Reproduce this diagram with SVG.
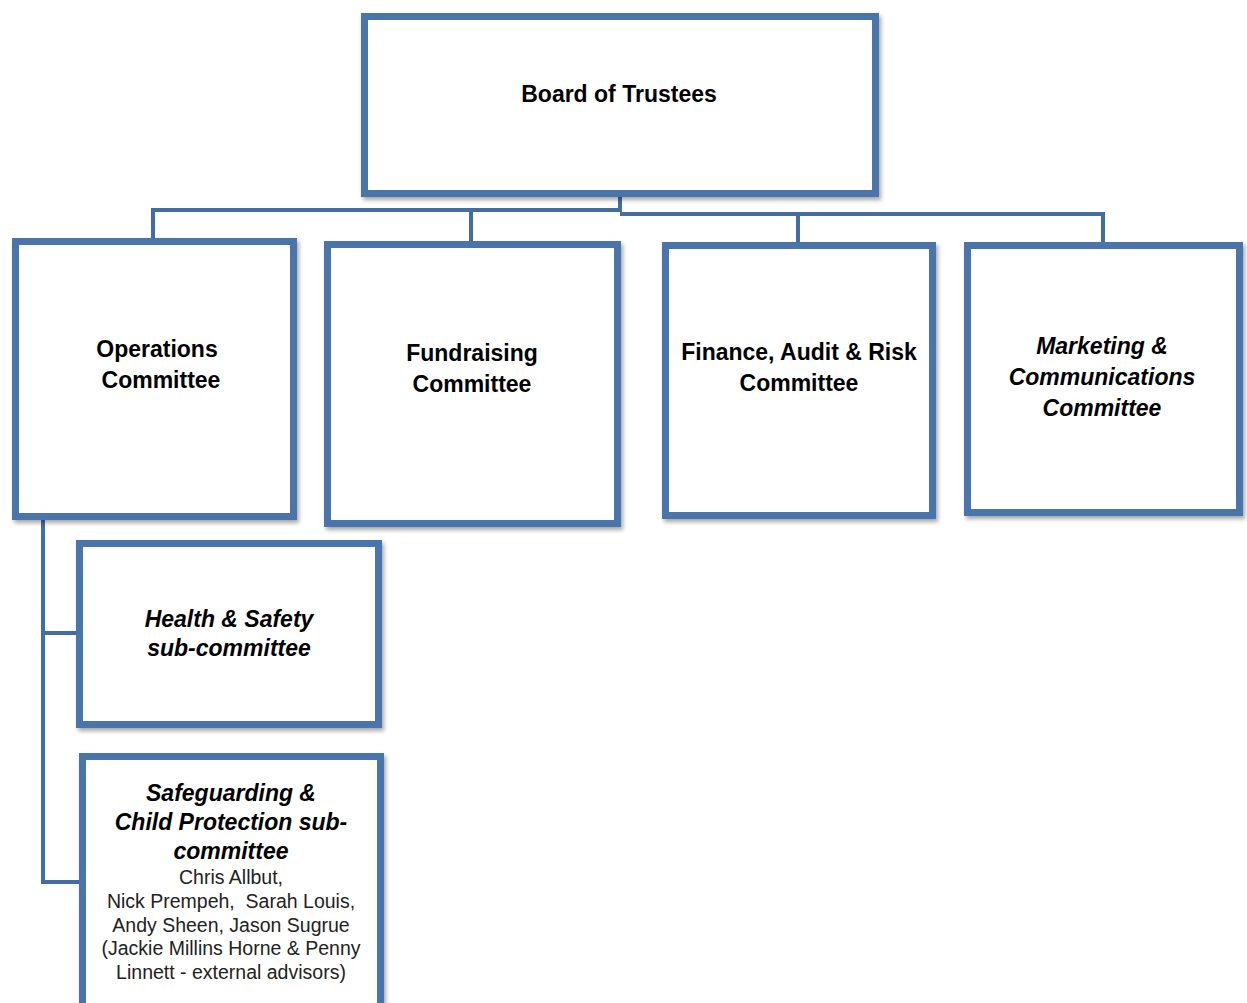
<svg xmlns="http://www.w3.org/2000/svg" width="1247" height="1003" viewBox="0 0 1247 1003">
<defs>
<filter id="sh" x="-5%" y="-5%" width="115%" height="115%">
<feDropShadow dx="2" dy="3" stdDeviation="2" flood-color="#000" flood-opacity="0.35"/>
</filter>
<style>
.box{fill:#fff;stroke:#4a75aa;stroke-width:7;filter:url(#sh)}
.con{fill:none;stroke:#426ea3;stroke-width:4}
.t{font-family:"Liberation Sans",Arial,sans-serif;font-weight:bold;font-size:23px;fill:#000;text-anchor:middle}
.ti{font-family:"Liberation Sans",Arial,sans-serif;font-weight:bold;font-style:italic;font-size:23px;fill:#000;text-anchor:middle}
.tr{font-family:"Liberation Sans",Arial,sans-serif;font-size:19.5px;fill:#222;text-anchor:middle}
</style>
</defs>
<rect width="1247" height="1003" fill="#fff"/>
<g id="connectors">
<polyline class="con" points="620,197 620,212"/>
<polyline class="con" points="153,240 153,210 620,210"/>
<polyline class="con" points="471,243 471,212"/>
<polyline class="con" points="620,214 1103,214 1103,244"/>
<polyline class="con" points="798,244 798,214"/>
<polyline class="con" points="43,519 43,882 81,882"/>
<polyline class="con" points="43,633 79,633"/>
</g>
<g id="board">
<rect class="box" x="364.5" y="16.5" width="511" height="177"/>
<text class="t" x="619" y="102">Board of Trustees</text>
</g>
<g id="operations">
<rect class="box" x="15.5" y="241.5" width="278" height="275"/>
<text class="t" x="157" y="357">Operations</text>
<text class="t" x="161" y="388">Committee</text>
</g>
<g id="fundraising">
<rect class="box" x="327.5" y="244.5" width="290" height="279"/>
<text class="t" x="472" y="361">Fundraising</text>
<text class="t" x="472" y="392">Committee</text>
</g>
<g id="finance">
<rect class="box" x="665.5" y="245.5" width="267" height="270"/>
<text class="t" x="799" y="360">Finance, Audit &amp; Risk</text>
<text class="t" x="799" y="391">Committee</text>
</g>
<g id="marketing">
<rect class="box" x="967.5" y="245.5" width="272" height="267"/>
<text class="ti" x="1102" y="354">Marketing &amp;</text>
<text class="ti" x="1102" y="385">Communications</text>
<text class="ti" x="1102" y="416">Committee</text>
</g>
<g id="health-safety">
<rect class="box" x="79.5" y="543.5" width="299" height="181"/>
<text class="ti" x="229" y="627">Health &amp; Safety</text>
<text class="ti" x="229" y="656">sub-committee</text>
</g>
<g id="safeguarding">
<rect class="box" x="82.5" y="756.5" width="298" height="260"/>
<text class="ti" x="231" y="801">Safeguarding &amp;</text>
<text class="ti" x="231" y="830">Child Protection sub-</text>
<text class="ti" x="231" y="859">committee</text>
<text class="tr" x="231" y="884">Chris Allbut,</text>
<text class="tr" x="231" y="908" xml:space="preserve">Nick Prempeh,  Sarah Louis,</text>
<text class="tr" x="231" y="932">Andy Sheen, Jason Sugrue</text>
<text class="tr" x="231" y="955">(Jackie Millins Horne &amp; Penny</text>
<text class="tr" x="231" y="979">Linnett - external advisors)</text>
</g>
</svg>
